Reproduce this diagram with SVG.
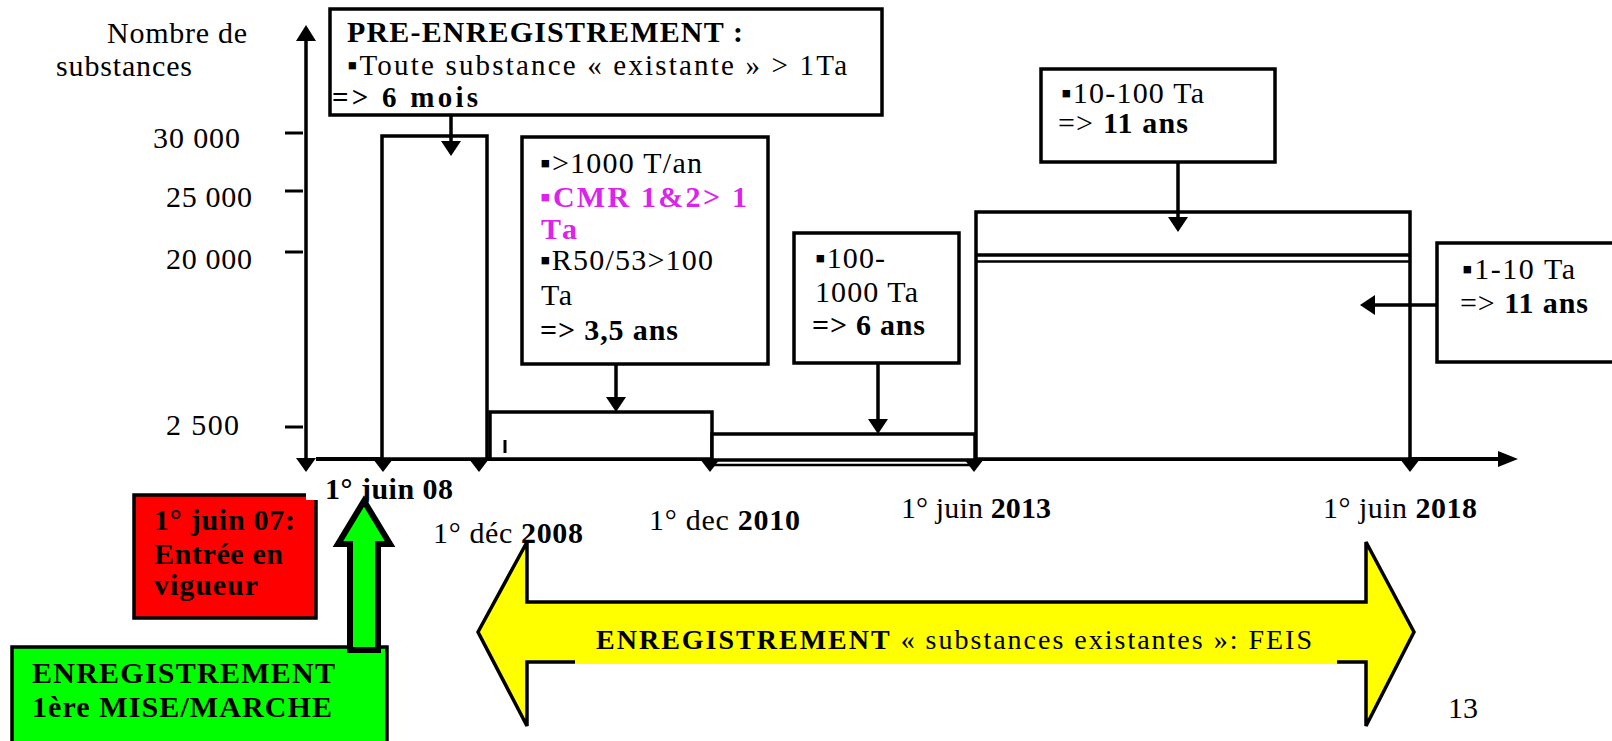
<svg xmlns="http://www.w3.org/2000/svg" width="1612" height="741" viewBox="0 0 1612 741">
<style>
text{font-family:"Liberation Serif","Times New Roman",serif;font-size:30px;fill:#000}
.b{font-weight:bold}
.m{fill:#dd22ee;font-weight:bold}
.box{fill:#fff;stroke:#000;stroke-width:3.5}
.ln{stroke:#000;stroke-width:3.5;fill:none}
.tri{fill:#000}
</style>
<defs>
<marker id="ah" markerUnits="userSpaceOnUse" markerWidth="15" markerHeight="20" viewBox="0 0 15 20" refX="0" refY="10" orient="auto">
<path d="M0,0 L15,10 L0,20 z" fill="#000"/>
</marker>
</defs>
<rect width="1612" height="741" fill="#fff"/>

<g id="axes">
<line class="ln" x1="306" y1="458" x2="306" y2="41"/>
<polygon class="tri" points="296,41 316,41 306,25"/>
<polygon class="tri" points="296,458 316,458 306,472"/>
<line x1="285" y1="133" x2="303" y2="133" stroke="#000" stroke-width="3"/>
<line x1="285" y1="191" x2="303" y2="191" stroke="#000" stroke-width="3"/>
<line x1="285" y1="252" x2="303" y2="252" stroke="#000" stroke-width="3"/>
<line x1="285" y1="427" x2="303" y2="427" stroke="#000" stroke-width="3"/>
<text x="107" y="43" textLength="140" lengthAdjust="spacing">Nombre de</text>
<text x="56" y="76" textLength="136" lengthAdjust="spacing">substances</text>
<text x="153" y="148" textLength="87" lengthAdjust="spacing">30 000</text>
<text x="166" y="207" textLength="86" lengthAdjust="spacing">25 000</text>
<text x="166" y="269" textLength="86" lengthAdjust="spacing">20 000</text>
<text x="166" y="435" textLength="73" lengthAdjust="spacing">2 500</text>
<line x1="316" y1="459" x2="1498" y2="459" stroke="#000" stroke-width="4"/>
<polygon class="tri" points="1498,451 1518,459 1498,467"/>
</g>

<g id="periods">
<rect class="box" x="382" y="136" width="105" height="323"/>
<rect class="box" x="490" y="412" width="222" height="47"/>
<line x1="505" y1="440" x2="505" y2="453" stroke="#000" stroke-width="3"/>
<rect class="box" x="712" y="434" width="263" height="26"/>
<line x1="712" y1="465" x2="975" y2="465" stroke="#000" stroke-width="2.5"/>
<rect class="box" x="976" y="212" width="434" height="247"/>
<line x1="976" y1="255" x2="1410" y2="255" stroke="#000" stroke-width="3.5"/>
<line x1="976" y1="261.5" x2="1410" y2="261.5" stroke="#000" stroke-width="2.5"/>
<polygon class="tri" points="373,459 393,459 383,472"/>
<polygon class="tri" points="469,459 489,459 479,472"/>
<polygon class="tri" points="700,459 720,459 710,472"/>
<polygon class="tri" points="964,459 984,459 974,472"/>
<polygon class="tri" points="1400,459 1420,459 1410,472"/>
</g>

<g id="pre">
<rect class="box" x="330" y="9" width="552" height="106"/>
<text x="347" y="42" class="b" textLength="396" lengthAdjust="spacing">PRE-ENREGISTREMENT :</text>
<text x="347" y="75" style="font-size:29px" textLength="500" lengthAdjust="spacing">▪Toute substance « existante » &gt; 1Ta</text>
<text x="332" y="107" class="b" style="font-size:29px" textLength="146" lengthAdjust="spacing">=&gt; 6 mois</text>
</g>

<g id="t1000">
<rect class="box" x="522" y="137" width="246" height="227"/>
<text x="540" y="173" textLength="162" lengthAdjust="spacing">▪&gt;1000 T/an</text>
<text x="540" y="207" class="m" textLength="207" lengthAdjust="spacing">▪CMR  1&amp;2&gt; 1</text>
<text x="541" y="239" class="m" textLength="36" lengthAdjust="spacing">Ta</text>
<text x="540" y="270" textLength="173" lengthAdjust="spacing">▪R50/53&gt;100</text>
<text x="541" y="305" textLength="31" lengthAdjust="spacing">Ta</text>
<text x="540" y="340" class="b" textLength="138" lengthAdjust="spacing">=&gt; 3,5 ans</text>
</g>

<g id="t100">
<rect class="box" x="794" y="233" width="165" height="130"/>
<text x="815" y="268" textLength="70" lengthAdjust="spacing">▪100-</text>
<text x="815" y="302" textLength="103" lengthAdjust="spacing">1000 Ta</text>
<text x="812" y="335" class="b" textLength="113" lengthAdjust="spacing">=&gt; 6 ans</text>
</g>

<g id="t10">
<rect class="box" x="1041" y="69" width="234" height="93"/>
<text x="1061" y="103" textLength="143" lengthAdjust="spacing">▪10-100 Ta</text>
<text x="1058" y="133" textLength="130" lengthAdjust="spacing">=&gt; <tspan class="b">11 ans</tspan></text>
</g>

<g id="t1">
<rect class="box" x="1437" y="243" width="190" height="119"/>
<text x="1462" y="279" textLength="113" lengthAdjust="spacing">▪1-10 Ta</text>
<text x="1460" y="313" textLength="128" lengthAdjust="spacing">=&gt; <tspan class="b">11 ans</tspan></text>
</g>

<g id="connectors">
<line class="ln" x1="451" y1="115" x2="451" y2="141" marker-end="url(#ah)"/>
<line class="ln" x1="616" y1="364" x2="616" y2="397" marker-end="url(#ah)"/>
<line class="ln" x1="878" y1="363" x2="878" y2="419" marker-end="url(#ah)"/>
<line class="ln" x1="1178" y1="162" x2="1178" y2="217" marker-end="url(#ah)"/>
<line class="ln" x1="1437" y1="305" x2="1375" y2="305" marker-end="url(#ah)"/>
</g>

<g id="dates">
<rect x="306" y="476" width="152" height="26" fill="#fff"/>
<text x="325" y="499" class="b" textLength="128" lengthAdjust="spacing">1° juin 08</text>
<text x="433" y="543" textLength="150" lengthAdjust="spacing">1° déc <tspan class="b">2008</tspan></text>
<text x="649" y="530" textLength="151" lengthAdjust="spacing">1° dec <tspan class="b">2010</tspan></text>
<text x="901" y="518" textLength="150" lengthAdjust="spacing">1° juin <tspan class="b">2013</tspan></text>
<text x="1323" y="518" textLength="154" lengthAdjust="spacing">1° juin <tspan class="b">2018</tspan></text>
</g>

<g id="entree">
<rect x="134" y="495" width="182" height="123" fill="#ff0000" stroke="#000" stroke-width="3.5"/>
<rect x="306" y="476" width="20" height="24" fill="#fff"/>
<text x="154" y="530" class="b" textLength="141" lengthAdjust="spacing">1° juin 07:</text>
<text x="154" y="564" class="b" textLength="129" lengthAdjust="spacing">Entrée en</text>
<text x="154" y="595" class="b" textLength="104" lengthAdjust="spacing">vigueur</text>
</g>

<g id="premiere">
<rect x="12" y="647" width="375" height="110" fill="#00ff00" stroke="#000" stroke-width="3.5"/>
<text x="32" y="683" class="b" textLength="303" lengthAdjust="spacing">ENREGISTREMENT</text>
<text x="32" y="717" class="b" textLength="300" lengthAdjust="spacing">1ère MISE/MARCHE</text>
<polygon points="364,501 390,544 378,544 378,650 350,650 350,544 338,544" fill="#00ff00" stroke="#000" stroke-width="6" stroke-linejoin="miter"/>
</g>

<g id="feis">
<polygon points="478,632 527,542 527,602 1366,602 1366,542 1414,632 1366,726 1366,662 527,662 527,726" fill="#ffff00" stroke="#000" stroke-width="3.5"/>
<rect x="575" y="604" width="762" height="60" fill="#ffff00"/>
<text x="596" y="649" style="font-size:28px" textLength="716" lengthAdjust="spacing"><tspan class="b">ENREGISTREMENT</tspan> « substances existantes »: FEIS</text>
</g>

<g id="page">
<text x="1448" y="718" textLength="30" lengthAdjust="spacing">13</text>
</g>
</svg>
